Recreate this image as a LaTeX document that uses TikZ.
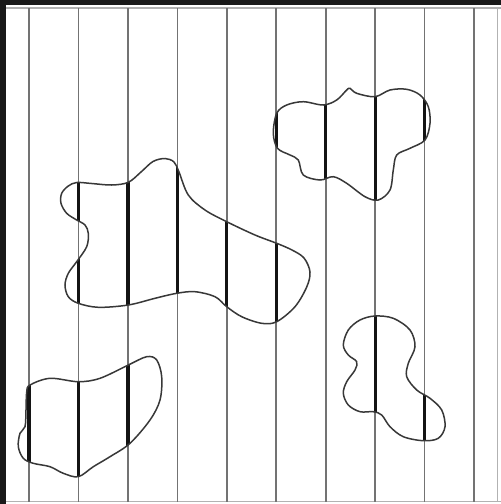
\documentclass[tikz,border=0pt]{standalone}
\begin{document}
\begin{tikzpicture}[x=1pt,y=-1pt,
  rule/.style={draw=black!55,line width=1.6pt},
  frameline/.style={draw=black!30,line width=1.2pt},
  inked/.style={draw=black!92,line width=3.2pt},
  outline/.style={draw=black!78,line width=1.5pt}]
\useasboundingbox (0,0) rectangle (501,504);
\fill[white] (0,0) rectangle (501,504);
% dark frame
\fill[black!90] (0,0) rectangle (501,5);
\fill[black!90] (0,0) rectangle (6,504);
\draw[frameline] (6,8) -- (501,8);
\draw[frameline] (6,501.5) -- (501,501.5);
\draw[frameline] (497.5,8) -- (497.5,501.5);
% blob paths
\def\blobA{plot[smooth cycle,tension=0.55] coordinates {
 (76.7,182.5) (91.7,183.5) (111.7,185) (128.3,182.3) (141,172) (153,161.5)
 (165,158.5) (174,162) (179,172) (188.3,195) (205,210) (226.7,221.7) (255,235)
 (276.7,243.3) (292,250) (304,258) (310,272) (306.7,287) (295,306.7)
 (276.7,321.7) (261.7,323.3) (241.7,316.7) (226.7,306.7) (215,296.7)
 (195,291.7) (176.7,293.3) (155,298.3) (128.3,305) (98.3,307.3)
 (78.3,303.3) (68.3,296.7) (65,285) (68.3,273.3) (76.7,261.7) (86.7,246.7)
 (88.3,233.3) (85,225) (76.7,220) (66.7,213.3) (61,203.3) (61.7,193.3) (68.3,186)}}
\def\blobB{plot[smooth cycle,tension=0.55] coordinates {
 (350,88.3) (356.7,93.3) (375,96.7) (390,90) (406.7,89.3) (420,95)
 (428.3,106.7) (430,123.3) (425,140) (410,148.3) (396.7,155) (393.3,170)
 (390,190) (378.3,200) (365,196.7) (346.7,183.3) (333.3,176.7) (320,180)
 (303.3,175) (298.3,160) (290,155) (277.5,148.3) (273.3,133.3) (276.7,113.3)
 (286.7,105) (303.3,101.7) (323.3,105) (336.7,100) (346.7,90)}}
\def\blobC{plot[smooth cycle,tension=0.55] coordinates {
 (30,385) (50,378.3) (78.3,381.7) (100,378.3) (128.3,365) (146.7,356.7)
 (156.7,360) (161.7,376.7) (160,400) (150,420) (130,443.3) (110,456.7)
 (93.3,466.7) (78.3,476.7) (63.3,473.3) (50,466.7) (33.3,463.3) (23.3,458.3)
 (18.3,446.7) (20,433.3) (25,426.7) (26,410) (26.7,392)}}
\def\blobD{plot[smooth cycle,tension=0.55] coordinates {
 (375,316) (393.3,318.3) (410,330) (415,346.7) (408.3,363.3) (406.7,376.7)
 (416.7,390) (430,398.3) (441.7,410) (445,426.7) (438.3,438.3) (423.3,440.7)
 (403.3,436.7) (390,426.7) (381.7,415) (373.3,411.7) (360,411.7) (348.3,405)
 (343.3,393.3) (346.7,381.7) (355,370) (356.7,361.7) (348.3,355) (343.3,345)
 (348.3,330) (360,320)}}
% thin vertical rules
\foreach \i in {0,...,9} {
  \draw[rule] ({29+49.45*\i},8) -- ({29+49.45*\i},501.5);
}
% inked parts inside the blobs
\foreach \b in {\blobA,\blobB,\blobC,\blobD} {
  \begin{scope}
    \clip \b;
    \foreach \i in {0,...,9} {
      \draw[inked] ({29+49.45*\i},8) -- ({29+49.45*\i},501.5);
    }
  \end{scope}
}
\draw[outline] \blobA;
\draw[outline] \blobB;
\draw[outline] \blobC;
\draw[outline] \blobD;
\end{tikzpicture}
\end{document}
